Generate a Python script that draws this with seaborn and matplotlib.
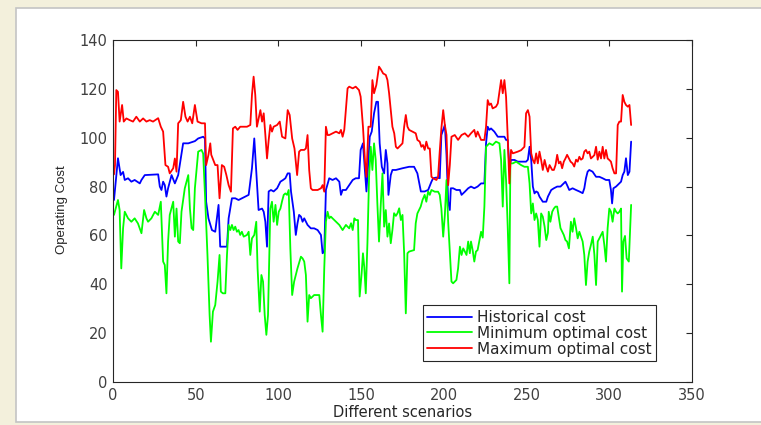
import matplotlib
matplotlib.use("Agg")
import matplotlib.pyplot as plt
from matplotlib.patches import Rectangle
import seaborn as sns
import pandas as pd

# ---- data (scenario index, operating cost) ----
historical_pts = [
    (0.6,74.5),(3.0,91.6),(4.6,84.7),(6.1,86),(7.1,82.7),(9.1,83.4),(11.1,82),(13.1,82.7),(16.2,81.3),(17.2,82.7),
    (19.2,84.7),(27.3,85),(28.3,80),(29.3,78.6),(30.3,82),(31.3,80.6),(32.3,75.9),(33.3,79.3),(35.4,84.7),(37.4,81.3),
    (39.4,84.7),(42.4,97.7),(45.5,97.7),(49.5,98.6),(51.5,99.7),(54.5,100.4),(55.6,99.7),(56.3,73.8),(57.7,67),(59.8,62.2),
    (61.8,61.5),(63.8,72.5),(64.8,55.4),(68.9,55.4),(69.9,67),(71.9,75.2),(73.9,75.2),(75.9,74.5),(77.9,75.2),(79.9,75.9),
    (82,76.6),(84,87.5),(85.4,99.7),(86.6,86.1),(88,70.4),(90.1,71),(91.1,69.7),(92.1,65.6),(93.1,55.4),(94.1,78),
    (95.5,78.6),(97.1,78),(99.2,79.3),(101.2,82),(102.8,82.7),(104.2,83.4),(105.6,85.4),(106.8,85.4),(107.6,78),(109.3,69.7),
    (110.5,60.2),(111.5,64.9),(112.5,68.4),(113.6,67.7),(114.6,65.6),(115.6,67),(117.6,64.3),(119.6,62.9),(121.6,62.9),(123.7,62.2),
    (125.7,60.2),(126.7,52.7),(127.7,53.4),(128.7,78.6),(130.7,83.4),(132.7,82.7),(134.8,83.4),(136.8,82),(137.8,76.6),(138.8,78.6),
    (140.8,78.6),(142.8,80.6),(144.9,82.7),(146.7,83.4),(148.7,83.4),(149.7,95),(151.1,97.7),(152.4,85.4),(153.2,78),(154.4,90.9),
    (155.2,100.4),(156.4,102.5),(157.8,110),(159.2,114.7),(160.2,114.7),(161.2,97.7),(162.5,88.1),(163.9,85.4),(164.9,95),(165.9,89.5),
    (166.5,76.6),(167.9,84.7),(168.9,86.8),(171,86.8),(175,87.5),(179,88.1),(182,88.1),(184,85.4),(186.1,78),(188.4,78),
    (190.5,78.6),(192.5,82),(193.5,83.4),(195.5,83.7),(197.5,83.4),(198.5,101.1),(199.6,103.2),(200.6,105.2),(201.6,92.9),(202.6,73.8),
    (203.6,70.4),(204.2,79.3),(205.6,79.3),(207.6,78.6),(209.7,78.6),(210.7,76.6),(212.7,77.9),(214.7,79.3),(216.4,80),(218.4,79.3),
    (220.4,80),(222.5,81.3),(224.5,81.3),(225.5,97.7),(226.5,104.5),(227.5,103.2),(228.5,103.8),(230.5,102.5),(232.6,100.4),(234.6,100.4),
    (236.6,100.4),(237.6,99.1),(238.6,99.1),(239.6,88.1),(240.6,90.9),(242.7,90.9),(244.7,90.2),(246.7,90.2),(249.7,90.2),(250.8,91),
    (251.8,96.3),(252.8,90.9),(253.8,80),(254.8,77.2),(255.8,78),(256.8,77.6),(257.8,75.9),(259.8,73.8),(261.9,73.8),(262.9,75.9),
    (264.9,78.6),(266.5,79.3),(268.5,80),(270.5,80),(272.5,81.3),(273.5,82),(274.5,80.6),(275.8,78.6),(277.8,79.3),(279.9,78.6),
    (281.9,78),(283.9,77.3),(284.9,79.3),(285.9,83.4),(286.9,86.1),(287.9,86.8),(289.9,86.1),(292,84),(294,84),(296,83.4),
    (298,82.7),(300,82.7),(301,78.6),(301.7,73.1),(302.5,79.3),(304.1,80),(306.1,81.3),(307.1,82),(308.1,84.7),(309.1,86.1),
    (310.1,91.6),(311.2,84.7),(312.2,86.1),(313.2,98.4),
]

minimum_pts = [
    (0.6,68.4),(3.0,74.5),(4.0,70.4),(5.0,46.5),(6.1,63),(7.1,69.7),(9.1,67),(11.1,65.6),(13.1,67),(15.1,64.9),
    (17.2,60.9),(18.8,70.4),(20.2,67),(21.2,65.6),(23.2,67),(25.3,69.7),(27.3,68.4),(28.9,73.8),(30.3,49.3),(31.3,47.9),
    (32.3,36.3),(33.3,57.5),(34.3,68.4),(36.4,73.8),(37.4,59.5),(38.4,71),(39.4,57.5),(40.4,56.8),(41.4,69.7),(43.4,79.3),
    (45.5,84.7),(46.5,71),(47.5,63),(48.5,62.2),(49.5,79.3),(51.5,94.3),(53.5,95),(54.5,93.5),(55.7,75.2),(57.1,52),
    (58.4,27.4),(59.2,16.5),(60.4,28.8),(61.8,31.5),(63.2,41.1),(64.4,52),(65.2,37),(66.4,36.3),(67.9,36.3),(68.9,52),
    (69.9,64.3),(70.9,62.2),(71.9,64.3),(72.9,62.2),(73.9,63.6),(74.9,61.5),(75.9,62.2),(76.9,60.2),(77.9,61.5),(79,59.5),
    (81,60.2),(82,61.5),(83,52),(84,58.8),(85.4,60.2),(86.6,65.6),(87.4,46.5),(88.7,28.8),(89.7,43.8),(90.7,41.1),
    (91.7,27.4),(92.7,19.3),(93.7,27.4),(95.1,71),(96.1,73.8),(97.1,65.6),(98.2,72.5),(99.2,64.3),(100.2,69.7),(101.2,71),
    (102.2,74),(103.2,76.6),(104.2,77.2),(105.2,76.6),(106.2,78.6),(107.2,54.7),(108.3,35.6),(109.5,41.1),(111.5,46.5),(113.6,51.3),
    (114.6,50.6),(115.6,49.3),(116.6,43.8),(117.6,24.7),(118.6,35.6),(119.6,34.3),(121.6,35.6),(124.7,35.6),(125.7,27.4),(126.7,20.6),
    (127.7,46.5),(128.7,65.6),(129.7,69.7),(130.7,67),(131.7,67.7),(132.7,67),(134.8,65.6),(136.8,64.3),(138.8,62.2),(140.8,64.3),
    (142.8,62.9),(143.9,65),(144.9,62.2),(145.9,67),(146.7,66.3),(148.1,66.3),(149.1,35),(150.3,44.5),(151.1,52.7),(151.9,47),
    (152.8,36.3),(153.8,56.8),(154.8,84),(155.8,96.3),(156.8,86.8),(157.8,97.7),(158.8,90.9),(159.8,73.1),(160.8,57.5),(161.9,73.1),
    (162.9,85.4),(163.9,63.6),(164.9,70.4),(165.9,59.5),(166.9,64.9),(167.9,56.8),(168.9,62.2),(169.9,69.1),(171,68),(172,69.1),
    (173,71.1),(174,66.3),(175,68.4),(176,52.7),(177,28.1),(178,52.7),(179,53.4),(182,54),(183,65),(184,69),
    (186,71.8),(187.1,74.5),(188.4,76.6),(189.4,73.8),(190.5,78),(191.5,76.6),(192.5,78.6),(194.5,77.9),(196.5,77.9),(197.5,76.6),
    (198.5,71),(199.6,59.5),(200.6,68.4),(201.6,82.7),(202.6,65.6),(203.6,53.4),(204.6,41.1),(205.6,40.4),(206.6,41.1),(207.6,41.8),
    (208.6,46.5),(209.7,55.4),(210.7,52),(211.7,54.7),(212.7,53.4),(213.7,52),(214.7,57.5),(215.7,52.7),(216.4,57.5),(217.4,54),
    (218.4,49.3),(219.4,53.4),(220.4,54),(221.5,58),(222.5,61.5),(223.5,59.1),(224.5,71.8),(225.5,96.3),(227.5,97.7),(229.5,97),
    (231.5,98.4),(233.6,97.7),(234.6,90.9),(235.6,71.8),(236.6,95),(237.6,82.7),(238.6,63.6),(239.6,40.4),(240.2,89.5),(241.7,89.5),
    (243.7,90.2),(246.7,88.8),(248.7,88.1),(250.8,88.1),(251.8,81.3),(252.8,69),(253.8,73.1),(254.8,66.3),(255.8,69),(256.8,66.3),
    (257.8,55.4),(258.8,69),(259.8,67.7),(260.9,63.6),(261.9,58.1),(262.9,61),(263.4,69.7),(264.4,65.6),(265.5,69.7),(266.5,71),
    (267.5,71.8),(268.5,71.8),(270.5,63),(272.5,60.2),(273.5,58.1),(274.5,57.5),(275.6,54.7),(276.8,65.6),(277.8,61.5),(278.8,67),
    (279.9,63),(280.9,58.8),(281.9,61.5),(282.9,59.5),(283.9,57.5),(284.9,52),(285.9,39.7),(286.9,49.3),(287.9,53.4),(288.9,56.1),
    (290,59.5),(291,52),(292,39.7),(293,57.5),(294,58.8),(295,60.2),(296,61.5),(297,56.1),(298,49.3),(299,63),
    (300,71),(301,69.7),(302,65.6),(303.1,71),(304.1,69.7),(305.1,69),(306.1,69.7),(307.1,71),(307.7,37),(308.5,57.5),
    (309.5,59.8),(310.5,50.6),(311.8,49.3),(313.2,72.5),
]

maximum_pts = [
    (0.6,85),(1.2,88.8),(2.0,119.5),(3.0,118.8),(4.0,106.6),(5.5,113.4),(6.5,106.6),(8.1,107.9),(10.1,107.2),(12.1,106.6),
    (14.1,108.6),(16.2,106.6),(18.2,107.9),(20.2,106.6),(22.2,107.2),(24.2,106.6),(27.3,108),(28.9,104.5),(30.3,102.5),(31.7,88.8),
    (33.3,88.1),(34.3,85.4),(36.4,87.5),(37.4,91.5),(38.4,86.1),(39.4,105.9),(41,107.2),(42.4,114.7),(43.8,108.6),(45.1,106.6),
    (46.5,108.6),(47.9,105.9),(49.5,113.4),(51.1,106.6),(53.5,105.9),(55.6,105.9),(56.3,88.8),(57.7,93),(58.8,97.7),(59.4,93),
    (61.8,88.8),(63.2,88.8),(64.4,75.2),(65.8,88.8),(67.2,88.1),(68.5,84.8),(69.9,80.6),(71.3,77.9),(72.5,103.8),(73.9,104.5),
    (75.3,103.2),(76.9,104.5),(78.9,104.5),(81,104.5),(83,105.2),(84,117.5),(85,125),(86,117.5),(87,104.5),(88.1,108),
    (89.1,111.3),(90.1,106.6),(91.1,110),(92.1,101.1),(93.1,91.5),(94.1,99),(95.1,105.2),(96.1,102.5),(97.1,104.5),(99.2,105.2),
    (100.8,106.6),(102.2,100.4),(104.2,99.7),(105.6,111.3),(106.8,109.3),(108.3,99.7),(109.7,95.6),(111.3,84.7),(112.5,94.3),(113.6,95),
    (115.6,95),(116.6,95.6),(117.6,101.1),(118.6,86.8),(119.6,79.3),(120.6,78.6),(123.7,78.6),(125.7,79.3),(126.7,80.6),(127.7,77.9),
    (128.7,104.5),(129.7,101.1),(130.7,101.1),(132.7,101.8),(134.8,102.5),(136.8,101.8),(137.8,103.2),(138.8,100.4),(139.8,103.2),(141.8,120.2),
    (142.8,120.9),(144.9,120.2),(146.7,120.9),(148.7,119.5),(149.7,116.8),(151.1,104.5),(152.4,89.5),(153.2,84),(154.4,104.5),(155.8,104.5),
    (156.8,123.6),(157.8,118.2),(159.2,121.6),(160.8,129.1),(161.9,128),(163.3,126.3),(164.9,125.7),(165.9,123.6),(166.9,118.2),(167.9,111.3),
    (168.9,104.5),(170,101.8),(171,96.3),(172,95.6),(173,96.3),(175,97.7),(176,104.5),(177,109.3),(178,104.5),(179,103.2),
    (183,101.8),(184,99.1),(185.4,98.4),(186.4,96.3),(187.4,97),(188.4,95),(189.4,98.4),(190.5,95.6),(191.5,95.6),(192.5,84),
    (193.5,83.4),(195.5,82.7),(196.5,84),(197.5,94.3),(198.5,103.8),(199.6,111.3),(200.6,105.2),(201.6,101.1),(202.6,80.6),(203.6,88.8),
    (204.6,100.4),(206.6,101.1),(208.6,99.1),(210.7,101.1),(212.7,101.8),(214.7,100.4),(216.4,101.8),(218.4,103.2),(219.4,100.4),(220.4,102.5),
    (222.5,99.1),(224.5,99.1),(225.5,104.5),(226.5,115.4),(227.5,113.4),(228.5,114),(229.5,112),(231.5,112.7),(232.6,114),(234.6,123.6),
    (235.6,118.2),(236.6,123.6),(237.6,116.8),(238.6,100.4),(239.6,81.3),(240.6,95),(241.7,93.6),(244.7,94.3),(246.7,94.9),(248.7,96.3),
    (249.7,110),(250.8,111.3),(251.8,108.6),(252.8,93.6),(253.8,90.9),(254.8,89.5),(255.8,93.6),(256.8,89.5),(257.8,94.3),(258.8,90.9),
    (259.8,86.8),(260.9,90.9),(261.9,88.1),(262.9,86.1),(263.9,88.8),(265.5,86.8),(266.5,86.8),(267.5,88.8),(268.5,93),(269.5,89.5),
    (270.5,90.2),(271.5,87.5),(272.5,90.2),(273.5,91.5),(274.5,93),(275.6,91.5),(276.6,90.2),(277.8,89.5),(278.8,88.2),(279.9,91),
    (280.9,90.2),(281.9,92.2),(282.9,91),(283.9,91.5),(284.9,94.3),(285.9,95),(286.9,93.6),(287.9,94.3),(288.9,91.5),(290,92.2),
    (291,92.9),(292,96.3),(293,91),(294,94.3),(295,91.5),(296,96.3),(297,91.5),(298,95),(299,91.5),(300,90.9),
    (301,90.2),(302,87.5),(303.1,85.4),(304.1,85.4),(305.1,105.2),(306.1,106.6),(307.1,106.6),(308.1,117.5),(309.1,114.7),(310.1,113.4),
    (311.2,112.7),(312.2,113.4),(313.2,105.2),
]

series_names = ["Historical cost", "Minimum optimal cost", "Maximum optimal cost"]
series_colors = ["#0000ff", "#00ff00", "#ff0000"]
x_ticks = [0, 50, 100, 150, 200, 250, 300, 350]
y_ticks = [0, 20, 40, 60, 80, 100, 120, 140]

# ---- build long-form table ----
frames = []
for name, pts in zip(series_names, [historical_pts, minimum_pts, maximum_pts]):
    xs, ys = zip(*pts)
    frames.append(pd.DataFrame({"x": xs, "y": ys, "series": name}))
df = pd.concat(frames, ignore_index=True)

sns.set_style("white")
plt.rcParams["font.family"] = ["DejaVu Sans"]

fig = plt.figure(figsize=(7.61, 4.25), dpi=100, facecolor="#f3f0dc")
panel = Rectangle((16 / 761, 3 / 425), 1.0, 414 / 425, transform=fig.transFigure,
                  facecolor="white", edgecolor="#c4c4c4", lw=1.2, zorder=-10)
fig.patches.append(panel)

ax = fig.add_axes([113 / 761, 1 - 382 / 425, 579 / 761, 342 / 425])
ax.set_zorder(5)
ax.set_facecolor("white")

sns.lineplot(data=df, x="x", y="y", hue="series", hue_order=series_names,
             palette=dict(zip(series_names, series_colors)), estimator=None, sort=False,
             linewidth=1.3, ax=ax, legend=False)

ax.set_xlim(0, 350)
ax.set_ylim(0, 140)
ax.set_xticks(x_ticks)
ax.set_yticks(y_ticks)
ax.tick_params(direction="in", length=4, width=0.8, top=True, right=True,
               labelsize=10.5, color="#262626", labelcolor="#404040", pad=4)
for s in ax.spines.values():
    s.set_visible(True)
    s.set_color("#262626")
    s.set_linewidth(0.8)

ax.set_xlabel("Different scenarios", fontsize=10.5, color="#262626")
ax.xaxis.set_label_coords(0.5, -0.088)
ax.xaxis.label.set_va("center")
ax.set_ylabel("Operating Cost", fontsize=9.5, color="#262626", family=["Liberation Sans", "DejaVu Sans"])
ax.yaxis.set_label_coords(-0.088, 0.503)
ax.yaxis.label.set_va("center")

handles = [plt.Line2D([], [], color=c, lw=1.3) for c in series_colors]
leg = ax.legend(handles, series_names, loc="lower left", bbox_to_anchor=(0.535, 0.061),
                borderaxespad=0, frameon=True, fancybox=False, framealpha=1,
                edgecolor="#262626", fontsize=11, handlelength=2.9, handletextpad=0.35,
                labelspacing=0.05, borderpad=0.3)
leg.get_frame().set_linewidth(0.8)
for t in leg.get_texts():
    t.set_color("#262626")

fig.savefig("out.png", dpi=100, facecolor=fig.get_facecolor())
